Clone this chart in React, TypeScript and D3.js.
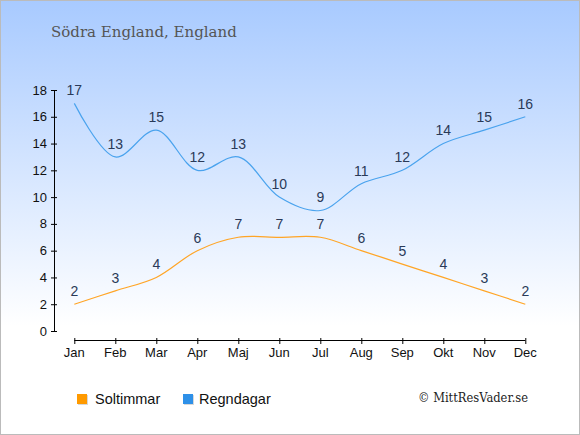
import React from "react";
import * as d3 from "d3";

const months = ["Jan", "Feb", "Mar", "Apr", "Maj", "Jun", "Jul", "Aug", "Sep", "Okt", "Nov", "Dec"];
const soltimmar = [2, 3, 4, 6, 7, 7, 7, 6, 5, 4, 3, 2];
const regndagar = [17, 13, 15, 12, 13, 10, 9, 11, 12, 14, 15, 16];
const yTicks = [0, 2, 4, 6, 8, 10, 12, 14, 16, 18];

const W = 580;
const H = 435;

export default function App() {
  const x = d3.scalePoint<string>().domain(months).range([74.3, 525.3]);
  const y = d3.scaleLinear().domain([0, 18]).range([331, 90]);
  const line = d3
    .line<number>()
    .x((_, i) => x(months[i]) as number)
    .y((d) => y(d))
    .curve(d3.curveCatmullRom.alpha(0.5));

  const sunColor = "#ffa526";
  const rainColor = "#4aa3ee";
  const labelColor = "#2a3a58";

  return (
    <svg
      width={W}
      height={H}
      style={{ position: "absolute", left: 0, top: 0, display: "block" }}
      fontFamily="Liberation Sans, Arial, sans-serif"
    >
      <defs>
        <linearGradient id="bg" x1="0" y1="0" x2="0" y2="1">
          <stop offset="0" stopColor="#a8caff" />
          <stop offset="0.75" stopColor="#ffffff" />
          <stop offset="1" stopColor="#ffffff" />
        </linearGradient>
      </defs>
      <rect x={0.5} y={0.5} width={W - 1} height={H - 1} fill="url(#bg)" stroke="#bbbbbb" />
      <text x={51} y={37} fontFamily="DejaVu Serif, serif" fontSize={15} fill="#555555">
        Södra England, England
      </text>

      {/* Y axis */}
      <line x1={54.5} x2={54.5} y1={y(18)} y2={y(0)} stroke="#000" />
      {yTicks.map((t) => (
        <g key={t}>
          <line x1={51} x2={57} y1={y(t) + 0.5} y2={y(t) + 0.5} stroke="#000" />
          <text x={47} y={y(t)} dy="0.35em" textAnchor="end" fontSize={13} fill="#111">
            {t}
          </text>
        </g>
      ))}

      {/* X axis */}
      <line x1={x("Jan")} x2={x("Dec")} y1={340.5} y2={340.5} stroke="#000" />
      {months.map((m) => (
        <g key={m}>
          <line x1={(x(m) as number) + 0.5} x2={(x(m) as number) + 0.5} y1={338} y2={344} stroke="#000" />
          <text x={x(m)} y={352} dy="0.35em" textAnchor="middle" fontSize={13} fill="#111">
            {m}
          </text>
        </g>
      ))}

      <path d={line(regndagar) || ""} fill="none" stroke={rainColor} strokeWidth={1.2} />
      <path d={line(soltimmar) || ""} fill="none" stroke={sunColor} strokeWidth={1.2} />

      {regndagar.map((v, i) => (
        <text key={"r" + i} x={x(months[i])} y={y(v) - 13} dy="0.35em" textAnchor="middle" fontSize={14} fill={labelColor}>
          {v}
        </text>
      ))}
      {soltimmar.map((v, i) => (
        <text key={"s" + i} x={x(months[i])} y={y(v) - 13} dy="0.35em" textAnchor="middle" fontSize={14} fill={labelColor}>
          {v}
        </text>
      ))}

      {/* Legend */}
      <rect x={78} y={395} width={10} height={10} fill="#c8c8c8" opacity={0.7} />
      <rect x={77} y={394} width={10} height={10} fill="#ff9a00" />
      <text x={95} y={399} dy="0.35em" fontSize={14.5} fill="#111">Soltimmar</text>
      <rect x={184} y={395} width={10} height={10} fill="#c8c8c8" opacity={0.7} />
      <rect x={183} y={394} width={10} height={10} fill="#2e90e8" />
      <text x={199} y={399} dy="0.35em" fontSize={14.5} fill="#111">Regndagar</text>

      <text x={418} y={398} dy="0.35em" fontFamily="DejaVu Serif, serif" fontSize={12} textLength={110} lengthAdjust="spacingAndGlyphs" fill="#222">
        © MittResVader.se
      </text>
    </svg>
  );
}
